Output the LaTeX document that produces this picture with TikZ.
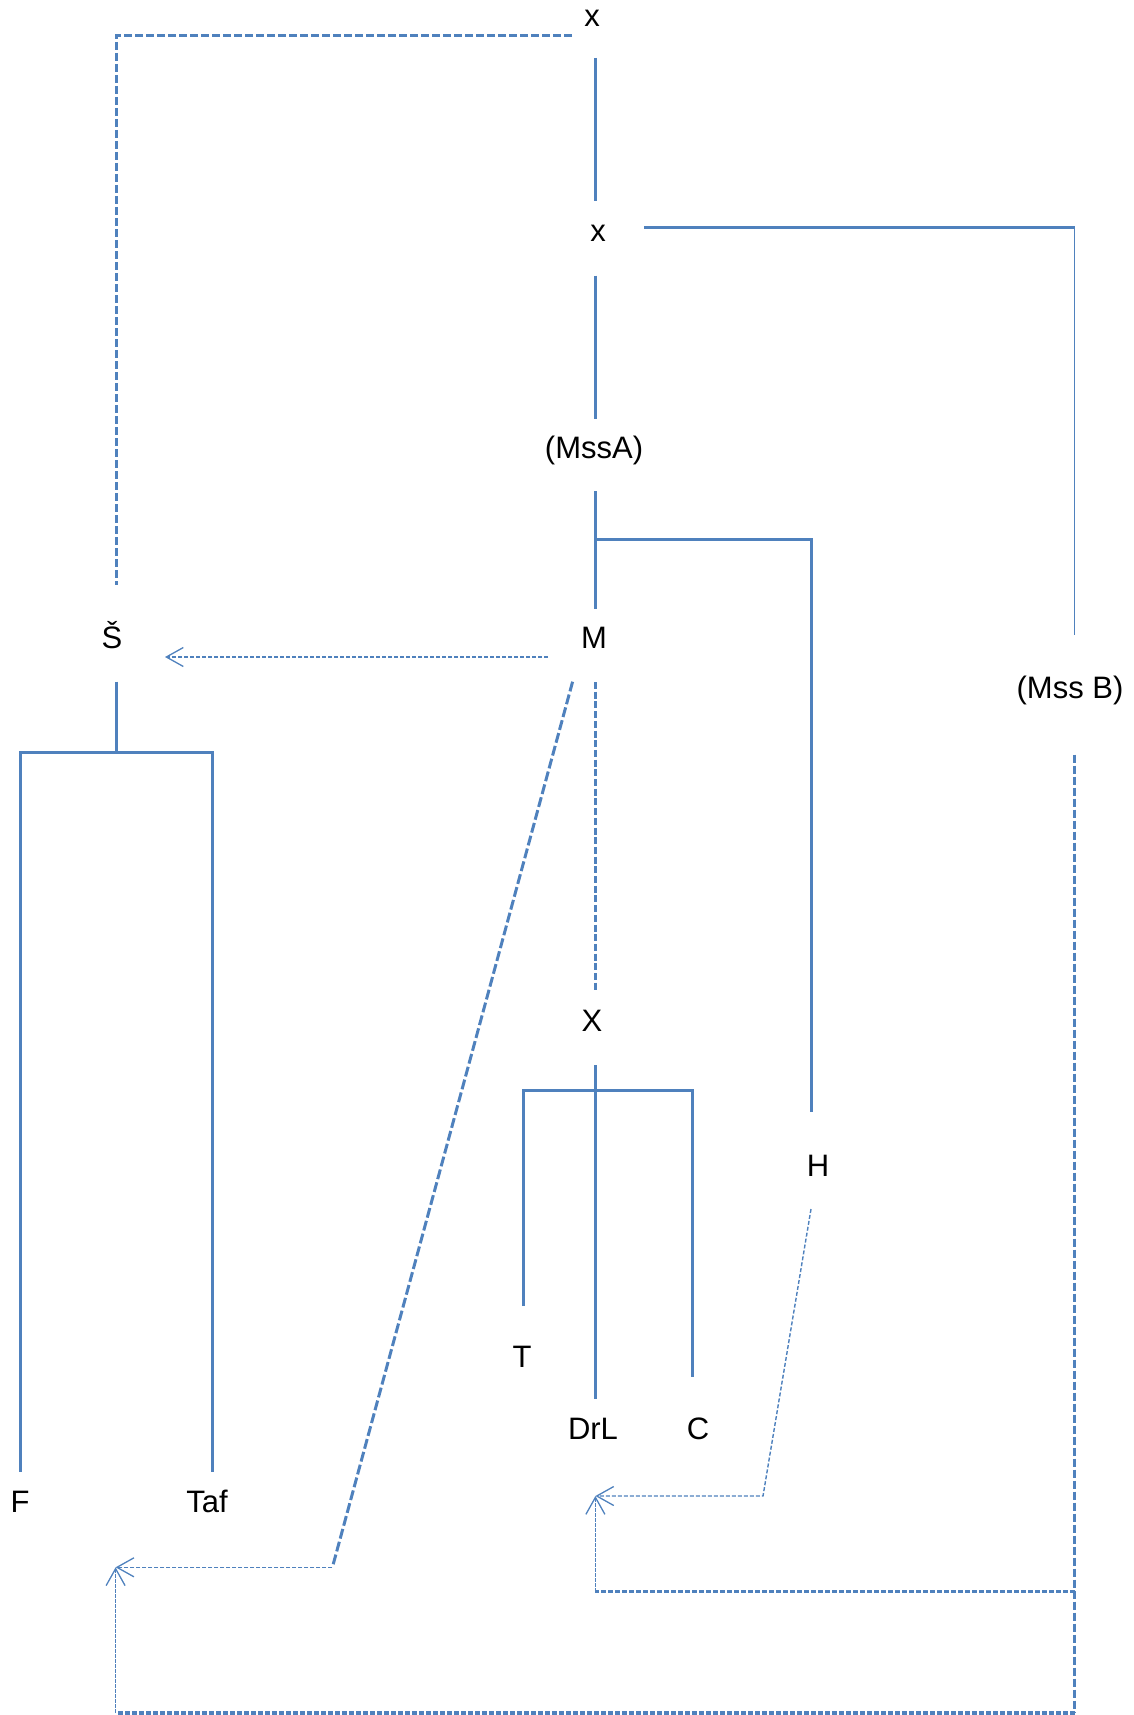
\documentclass[tikz,border=0pt]{standalone}
\usepackage{fontspec}
\setmainfont{Liberation Sans}
\usetikzlibrary{arrows.meta}
\definecolor{lineblue}{RGB}{79,129,189}
\begin{document}
\begin{tikzpicture}[x=1pt,y=-1pt,
  lbl/.style={anchor=base, inner sep=0pt, font=\fontsize{31}{37}\selectfont},
  solidline/.style={draw=lineblue, line width=3pt},
  thinsolid/.style={draw=lineblue, line width=1.8pt},
  dashthick/.style={draw=lineblue, line width=3pt, dash pattern=on 8pt off 3pt},
  densedash/.style={draw=lineblue, line width=3.2pt, dash pattern=on 5pt off 2pt},
  dotthin/.style={draw=lineblue, line width=1.4pt, dash pattern=on 4pt off 2pt},
  hairline/.style={draw=lineblue, line width=0.9pt, dash pattern=on 4pt off 1pt},
  barb/.style={-{Straight Barb[length=17pt,width=19pt,line width=1.3pt]}}]
\useasboundingbox (0,0) rectangle (1133,1715);
% text nodes
\node[lbl] (x1) at (592,27) {x};
\node[lbl] (x2) at (598,241) {x};
\node[lbl] (mssa) at (594,458) {(MssA)};
\node[lbl] (M) at (594,648) {M};
\node[lbl] (S) at (112,648) {Š};
\node[lbl] (mssb) at (1070,698) {(Mss B)};
\node[lbl] (X) at (592,1031) {X};
\node[lbl] (H) at (818,1176) {H};
\node[lbl] (T) at (522,1367) {T};
\node[lbl] (DrL) at (593,1439.5) {DrL};
\node[lbl] (C) at (698,1439.5) {C};
\node[lbl] (F) at (20,1512.7) {F};
\node[lbl] (Taf) at (207,1512) {Taf};
% connector end points
\coordinate (x1w) at (572,36);
\coordinate (cS) at (116,36);
\coordinate (Sn) at (116,585);
\coordinate (x1s) at (595,58);
\coordinate (x2n) at (595,201);
\coordinate (x2e) at (644,227.5);
\coordinate (cB) at (1074.5,227.5);
\coordinate (mssbN) at (1074.5,634.6);
\coordinate (x2s) at (595,275.7);
\coordinate (mssaN) at (595,418.6);
\coordinate (mssaS) at (595,491);
\coordinate (Mn) at (595,608.6);
\coordinate (jM) at (595,539);
\coordinate (cH) at (811,539);
\coordinate (Hn) at (811,1112);
\coordinate (Mw) at (548,657);
\coordinate (Se) at (165,657);
\coordinate (Msw) at (572.6,681.7);
\coordinate (d1) at (332.4,1567.3);
\coordinate (Fa) at (115.6,1567.3);
\coordinate (Ms) at (595,682);
\coordinate (Xn) at (595,992);
\coordinate (Xs) at (595.7,1065);
\coordinate (DrLn) at (595.7,1399);
\coordinate (Tc) at (523,1090);
\coordinate (Tn) at (523,1306);
\coordinate (Cc) at (692,1090);
\coordinate (Cn) at (692,1377);
\coordinate (Ss) at (116,681.7);
\coordinate (jS) at (116,752.7);
\coordinate (Fc) at (20.7,752.7);
\coordinate (Fn) at (20.7,1471.7);
\coordinate (Tafc) at (212,752.7);
\coordinate (Tafn) at (212,1471.7);
\coordinate (Hs) at (811,1209);
\coordinate (h1) at (763,1496);
\coordinate (DrLa) at (595.4,1496);
\coordinate (mssbS) at (1074.5,754.6);
\coordinate (b1) at (1074.5,1591.7);
\coordinate (b2) at (595.4,1591.7);
\coordinate (b3) at (1074.5,1713);
\coordinate (b4) at (115.6,1713);
% connectors
\draw[dashthick] (x1w) -- (cS) -- (Sn);
\draw[solidline] (x1s) -- (x2n);
\draw[solidline] (x2e) -- (cB);
\draw[thinsolid] (cB) -- (mssbN);
\draw[solidline] (x2s) -- (mssaN);
\draw[solidline] (mssaS) -- (Mn);
\draw[solidline] (jM) -- (cH) -- (Hn);
\draw[dotthin,barb] (Mw) -- (Se);
\draw[solidline] (Ss) -- (jS);
\draw[solidline] (Fn) -- (Fc) -- (Tafc) -- (Tafn);
\draw[dashthick, dash pattern=on 10pt off 3.3pt] (Msw) -- (d1);
\draw[dotthin,barb] (d1) -- (Fa);
\draw[dashthick, dash pattern=on 7pt off 2.7pt] (Ms) -- (Xn);
\draw[solidline] (Xs) -- (DrLn);
\draw[solidline] (Tn) -- (Tc) -- (Cc) -- (Cn);
\draw[dotthin,barb] (Hs) -- (h1) -- (DrLa);
\draw[dashthick] (mssbS) -- (b3);
\draw[densedash] (b1) -- (b2);
\draw[densedash] (b3) -- (b4);
\draw[hairline,barb] (b2) -- (DrLa);
\draw[hairline,barb] (b4) -- (Fa);
\end{tikzpicture}
\end{document}
